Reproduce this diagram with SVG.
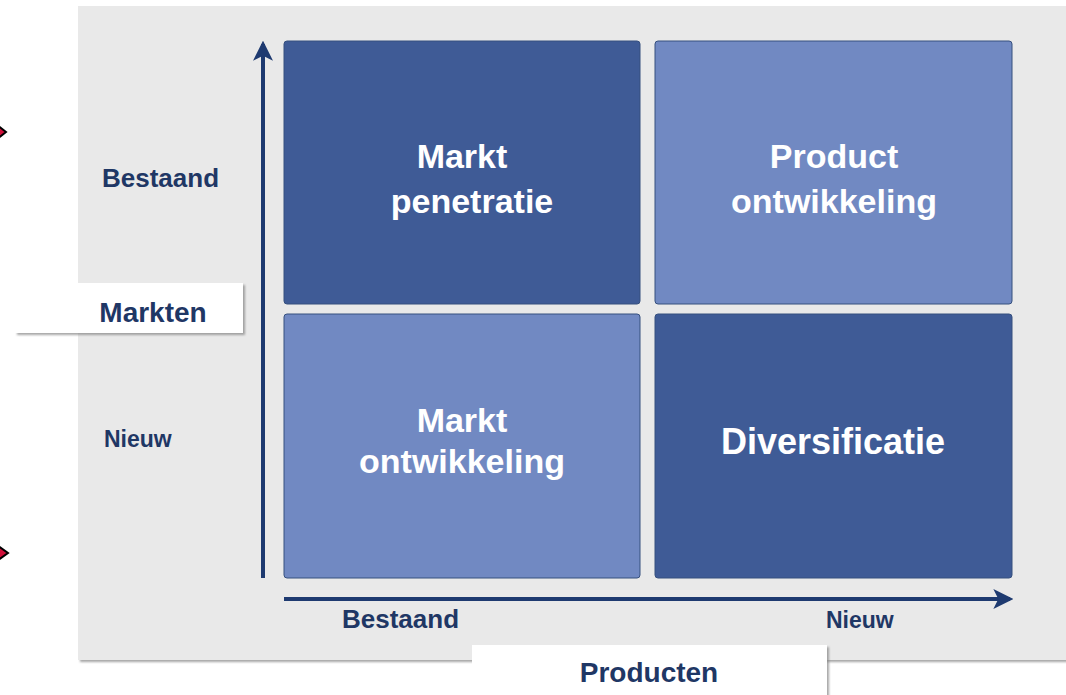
<svg xmlns="http://www.w3.org/2000/svg" width="1066" height="695" viewBox="0 0 1066 695">
  <defs>
    <style>
      .dark { fill: #3F5B96; }
      .light { fill: #7189C2; }
      .q { stroke: #36507F; stroke-width: 1; }
      .qt { font-family: "Liberation Sans", Arial, sans-serif; font-weight: bold; font-size: 34px; fill: #FFFFFF; text-anchor: middle; }
      .lbl { font-family: "Liberation Sans", Arial, sans-serif; font-weight: bold; font-size: 26px; fill: #1F3765; }
      .big { font-size: 28px; }
      .small { font-size: 23px; }
      .axis { stroke: #1E3A70; stroke-width: 4; fill: none; }
      .box { fill: #FFFFFF; }
      .diamond { fill: #D0103A; stroke: #000000; stroke-width: 2; }
    </style>
    <marker id="ah" viewBox="0 0 12 12" refX="10" refY="6" markerWidth="5" markerHeight="5" orient="auto" markerUnits="strokeWidth">
      <path d="M0,0 L12,6 L0,12 L3,6 Z" fill="#1E3A70"/>
    </marker>
    <filter id="sh" x="-10%" y="-10%" width="130%" height="140%">
      <feDropShadow dx="2" dy="2" stdDeviation="1" flood-color="#808080" flood-opacity="0.7"/>
    </filter>
  </defs>

  <rect x="0" y="0" width="1066" height="695" fill="#FFFFFF"/>

  <!-- background panel -->
  <g id="panel">
    <rect x="78" y="6" width="990" height="654" fill="#E9E9E9" filter="url(#sh)"/>
  </g>

  <!-- side markers -->
  <g id="markers">
    <polygon class="diamond" points="-4,124 6,132 -4,140 -14,132"/>
    <polygon class="diamond" points="-3,545 8,553 -3,561 -14,553"/>
  </g>

  <!-- quadrants -->
  <g id="q-markt-penetratie">
    <rect class="dark q" x="284" y="41" width="356" height="263" rx="3"/>
    <text class="qt" x="462" y="168">Markt</text>
    <text class="qt" x="472" y="213">penetratie</text>
  </g>
  <g id="q-product-ontwikkeling">
    <rect class="light q" x="655" y="41" width="357" height="263" rx="3"/>
    <text class="qt" x="834" y="168">Product</text>
    <text class="qt" x="834" y="213">ontwikkeling</text>
  </g>
  <g id="q-markt-ontwikkeling">
    <rect class="light q" x="284" y="314" width="356" height="264" rx="3"/>
    <text class="qt" x="462" y="432">Markt</text>
    <text class="qt" x="462" y="473">ontwikkeling</text>
  </g>
  <g id="q-diversificatie">
    <rect class="dark q" x="655" y="314" width="357" height="264" rx="3"/>
    <text class="qt" x="833" y="454" style="font-size:36px">Diversificatie</text>
  </g>

  <!-- axes -->
  <g id="connectors">
    <line class="axis" x1="263" y1="578" x2="263" y2="44" marker-end="url(#ah)"/>
    <line class="axis" x1="284" y1="599" x2="1010" y2="599" marker-end="url(#ah)"/>
  </g>

  <!-- axis labels -->
  <g id="label-markten">
    <rect class="box" x="15" y="283" width="228" height="50" filter="url(#sh)"/>
    <text class="lbl big" x="153" y="322" text-anchor="middle">Markten</text>
  </g>
  <g id="label-producten">
    <rect class="box" x="472" y="645" width="355" height="60" filter="url(#sh)"/>
    <text class="lbl big" x="649" y="682" text-anchor="middle">Producten</text>
  </g>
  <g id="label-markt-bestaand">
    <text class="lbl" x="102" y="187">Bestaand</text>
  </g>
  <g id="label-markt-nieuw">
    <text class="lbl small" x="104" y="447">Nieuw</text>
  </g>
  <g id="label-product-bestaand">
    <text class="lbl" x="342" y="628">Bestaand</text>
  </g>
  <g id="label-product-nieuw">
    <text class="lbl small" x="826" y="628">Nieuw</text>
  </g>
</svg>
